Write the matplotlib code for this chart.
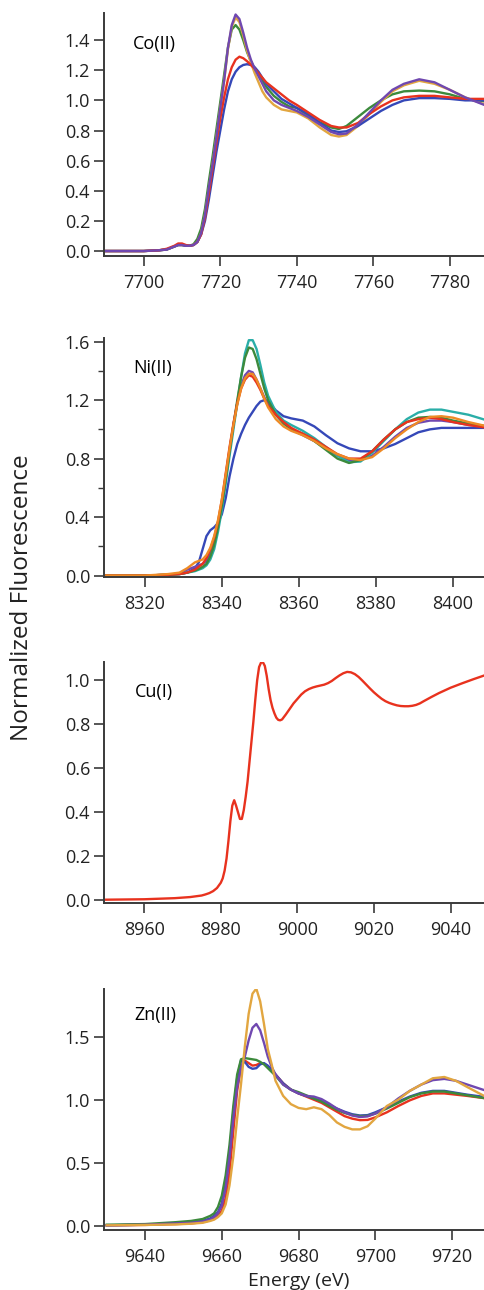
import matplotlib
matplotlib.use("Agg")
import matplotlib.pyplot as plt
from matplotlib.ticker import MultipleLocator, FormatStrFormatter

plt.rcParams['font.family'] = ['Open Sans', 'DejaVu Sans']

# colours
PURPLE = '#7048b0'
BLUE = '#3548b8'
RED = '#e8321e'
GREEN = '#3c8a3c'
GOLD = '#e2a640'
TEAL = '#2aaea8'
ORANGE = '#ee8a25'

# ---------------- Co(II) ----------------
co_e = [7690, 7700, 7704, 7706, 7708, 7709, 7710, 7711, 7712, 7713, 7714, 7715,
        7716, 7717, 7718, 7719, 7720, 7721, 7722, 7723, 7724, 7725, 7726, 7727,
        7728, 7729, 7730, 7731, 7732, 7734, 7736, 7738, 7740, 7743, 7746, 7749,
        7751, 7753, 7756, 7759, 7762, 7765, 7768, 7772, 7776, 7780, 7784, 7790]
co_purple = [0.0, 0.0, 0.005, 0.01, 0.03, 0.04, 0.04, 0.035, 0.035, 0.04, 0.06, 0.12,
             0.24, 0.42, 0.58, 0.76, 0.95, 1.13, 1.35, 1.50, 1.57, 1.54, 1.45, 1.35,
             1.27, 1.21, 1.16, 1.11, 1.06, 1.0, 0.97, 0.95, 0.93, 0.89, 0.84, 0.79,
             0.775, 0.78, 0.84, 0.92, 1.0, 1.07, 1.11, 1.14, 1.12, 1.07, 1.02, 0.96]
co_gold = [0.0, 0.0, 0.005, 0.01, 0.03, 0.04, 0.04, 0.035, 0.035, 0.04, 0.06, 0.12,
           0.24, 0.41, 0.58, 0.76, 0.95, 1.13, 1.34, 1.49, 1.55, 1.52, 1.43, 1.33,
           1.25, 1.18, 1.12, 1.06, 1.02, 0.97, 0.94, 0.93, 0.92, 0.88, 0.82, 0.77,
           0.76, 0.77, 0.83, 0.91, 0.99, 1.06, 1.10, 1.13, 1.11, 1.07, 1.02, 0.965]
co_green = [0.0, 0.0, 0.005, 0.01, 0.03, 0.04, 0.04, 0.035, 0.035, 0.045, 0.08, 0.15,
            0.28, 0.46, 0.63, 0.81, 0.99, 1.17, 1.35, 1.47, 1.50, 1.47, 1.40, 1.32,
            1.26, 1.21, 1.17, 1.13, 1.09, 1.03, 0.99, 0.96, 0.95, 0.90, 0.855, 0.82,
            0.81, 0.83, 0.89, 0.95, 1.0, 1.04, 1.06, 1.065, 1.06, 1.04, 1.01, 0.99]
co_red = [0.0, 0.0, 0.005, 0.015, 0.035, 0.05, 0.05, 0.04, 0.035, 0.04, 0.06, 0.11,
          0.22, 0.38, 0.55, 0.72, 0.88, 1.02, 1.14, 1.22, 1.27, 1.29, 1.28, 1.26,
          1.235, 1.21, 1.18, 1.15, 1.12, 1.08, 1.04, 1.0, 0.97, 0.92, 0.87, 0.83,
          0.82, 0.82, 0.85, 0.91, 0.96, 1.0, 1.02, 1.03, 1.03, 1.02, 1.01, 1.01]
co_blue = [0.0, 0.0, 0.005, 0.01, 0.03, 0.04, 0.04, 0.035, 0.035, 0.04, 0.06, 0.11,
           0.20, 0.34, 0.50, 0.66, 0.80, 0.94, 1.06, 1.14, 1.19, 1.22, 1.235, 1.24,
           1.235, 1.22, 1.19, 1.15, 1.11, 1.06, 1.01, 0.98, 0.95, 0.91, 0.85, 0.80,
           0.79, 0.795, 0.83, 0.88, 0.93, 0.97, 1.0, 1.015, 1.015, 1.01, 1.0, 1.0]

# ---------------- Ni(II) ----------------
ni_e = [8310, 8320, 8326, 8329, 8331, 8333, 8334, 8335, 8336, 8337, 8338, 8339,
        8340, 8341, 8342, 8343, 8344, 8345, 8346, 8347, 8348, 8349, 8350, 8351,
        8352, 8354, 8356, 8358, 8361, 8364, 8367, 8370, 8373, 8376, 8379, 8382,
        8385, 8388, 8391, 8394, 8397, 8400, 8404, 8409]
ni_teal = [0.0, 0.0, 0.005, 0.01, 0.02, 0.03, 0.04, 0.05, 0.07, 0.11, 0.18, 0.30,
           0.45, 0.63, 0.82, 1.0, 1.18, 1.36, 1.52, 1.61, 1.61, 1.55, 1.44, 1.32,
           1.23, 1.12, 1.06, 1.03, 0.99, 0.94, 0.88, 0.82, 0.775, 0.78, 0.84, 0.92,
           1.0, 1.07, 1.115, 1.135, 1.135, 1.12, 1.10, 1.06]
ni_green = [0.0, 0.0, 0.005, 0.01, 0.02, 0.035, 0.045, 0.06, 0.08, 0.13, 0.21, 0.33,
            0.48, 0.66, 0.85, 1.03, 1.20, 1.36, 1.49, 1.56, 1.55, 1.48, 1.38, 1.28,
            1.20, 1.10, 1.04, 1.0, 0.97, 0.92, 0.86, 0.80, 0.77, 0.79, 0.85, 0.93,
            1.0, 1.05, 1.08, 1.085, 1.08, 1.06, 1.04, 1.02]
ni_purple = [0.0, 0.0, 0.005, 0.015, 0.04, 0.06, 0.07, 0.08, 0.10, 0.15, 0.23, 0.35,
             0.50, 0.68, 0.86, 1.03, 1.18, 1.30, 1.37, 1.40, 1.39, 1.34, 1.28, 1.22,
             1.17, 1.10, 1.05, 1.0, 0.96, 0.92, 0.87, 0.82, 0.79, 0.79, 0.82, 0.88,
             0.95, 1.01, 1.045, 1.06, 1.06, 1.05, 1.03, 1.02]
ni_red = [0.0, 0.0, 0.005, 0.01, 0.02, 0.04, 0.06, 0.08, 0.12, 0.18, 0.26, 0.37,
          0.52, 0.70, 0.88, 1.04, 1.18, 1.28, 1.34, 1.37, 1.36, 1.32, 1.27, 1.21,
          1.16, 1.10, 1.05, 1.01, 0.97, 0.93, 0.88, 0.83, 0.80, 0.80, 0.85, 0.93,
          1.0, 1.05, 1.07, 1.08, 1.07, 1.05, 1.03, 1.01]
ni_orange = [0.0, 0.0, 0.01, 0.02, 0.05, 0.09, 0.10, 0.11, 0.14, 0.19, 0.27, 0.38,
             0.52, 0.69, 0.87, 1.03, 1.17, 1.28, 1.35, 1.38, 1.38, 1.34, 1.28, 1.21,
             1.15, 1.07, 1.02, 0.99, 0.96, 0.92, 0.87, 0.83, 0.80, 0.79, 0.81, 0.87,
             0.94, 1.0, 1.05, 1.085, 1.09, 1.08, 1.05, 1.02]
ni_blue = [0.0, 0.0, 0.005, 0.01, 0.02, 0.05, 0.09, 0.18, 0.27, 0.31, 0.33, 0.36,
           0.42, 0.53, 0.68, 0.80, 0.90, 0.97, 1.03, 1.08, 1.12, 1.16, 1.19, 1.20,
           1.19, 1.13, 1.09, 1.075, 1.06, 1.02, 0.96, 0.905, 0.87, 0.85, 0.85, 0.87,
           0.90, 0.94, 0.98, 1.0, 1.01, 1.01, 1.01, 1.01]

# ---------------- Cu(I) ----------------
cu_e = [8950, 8960, 8968, 8972, 8975, 8976, 8977, 8978, 8979, 8980, 8980.5, 8981,
        8981.5, 8982, 8982.5, 8983, 8983.5, 8984, 8984.5, 8985, 8985.5, 8986, 8986.5,
        8987, 8987.5, 8988, 8988.5, 8989, 8989.5, 8990, 8990.5, 8991, 8991.5, 8992,
        8992.5, 8993, 8993.5, 8994, 8994.5, 8995, 8995.5, 8996, 8997, 8998, 8999,
        9000, 9001, 9002, 9003, 9004, 9005, 9006, 9007, 9008, 9009, 9010, 9011,
        9012, 9013, 9014, 9015, 9016, 9017, 9018, 9019, 9020, 9021, 9022, 9023,
        9024, 9025, 9026, 9027, 9028, 9029, 9030, 9031, 9032, 9033, 9035, 9037,
        9040, 9043, 9046, 9049]
cu_red = [0.003, 0.005, 0.01, 0.015, 0.022, 0.027, 0.033, 0.042, 0.056, 0.08, 0.10, 0.135,
          0.19, 0.27, 0.36, 0.43, 0.455, 0.43, 0.40, 0.37, 0.37, 0.41, 0.47,
          0.54, 0.63, 0.72, 0.81, 0.91, 1.0, 1.06, 1.08, 1.082, 1.065, 1.02,
          0.96, 0.91, 0.875, 0.85, 0.83, 0.82, 0.818, 0.822, 0.845, 0.87, 0.895,
          0.915, 0.935, 0.95, 0.96, 0.967, 0.972, 0.976, 0.98, 0.987, 0.997, 1.01, 1.022,
          1.032, 1.038, 1.036, 1.028, 1.015, 0.998, 0.98, 0.962, 0.945, 0.93, 0.916, 0.905,
          0.897, 0.891, 0.886, 0.883, 0.882, 0.882, 0.884, 0.888, 0.895, 0.905, 0.924, 0.942,
          0.966, 0.986, 1.005, 1.023]

# ---------------- Zn(II) ----------------
zn_e = [9630, 9640, 9648, 9652, 9655, 9657, 9658, 9659, 9660, 9661, 9662, 9663,
        9664, 9665, 9666, 9667, 9668, 9669, 9670, 9671, 9672, 9673, 9674, 9676,
        9678, 9680, 9682, 9684, 9686, 9688, 9690, 9692, 9694, 9696, 9698, 9700,
        9703, 9706, 9709, 9712, 9715, 9718, 9721, 9724, 9729]
zn_green = [0.01, 0.015, 0.03, 0.04, 0.055, 0.08, 0.10, 0.15, 0.24, 0.40, 0.64, 0.95,
            1.20, 1.32, 1.33, 1.325, 1.32, 1.315, 1.30, 1.28, 1.25, 1.22, 1.19, 1.12,
            1.08, 1.06, 1.035, 1.01, 0.985, 0.95, 0.92, 0.895, 0.878, 0.87, 0.872, 0.89,
            0.93, 0.975, 1.02, 1.05, 1.065, 1.065, 1.05, 1.035, 1.01]
zn_blue = [0.005, 0.01, 0.02, 0.03, 0.04, 0.06, 0.08, 0.11, 0.18, 0.33, 0.58, 0.90,
           1.17, 1.31, 1.30, 1.26, 1.245, 1.25, 1.28, 1.29, 1.27, 1.24, 1.20, 1.13,
           1.08, 1.05, 1.03, 1.01, 0.99, 0.96, 0.93, 0.905, 0.885, 0.875, 0.878, 0.90,
           0.94, 0.985, 1.025, 1.055, 1.07, 1.07, 1.055, 1.04, 1.02]
zn_red = [0.005, 0.008, 0.015, 0.02, 0.03, 0.045, 0.06, 0.08, 0.12, 0.22, 0.42, 0.75,
          1.07, 1.26, 1.31, 1.29, 1.27, 1.275, 1.29, 1.285, 1.265, 1.235, 1.20, 1.13,
          1.08, 1.05, 1.025, 1.0, 0.975, 0.94, 0.905, 0.87, 0.85, 0.838, 0.84, 0.86,
          0.90, 0.95, 0.995, 1.03, 1.05, 1.05, 1.04, 1.03, 1.01]
zn_purple = [0.005, 0.01, 0.02, 0.025, 0.035, 0.05, 0.07, 0.10, 0.16, 0.30, 0.54, 0.85,
             1.10, 1.25, 1.34, 1.47, 1.57, 1.60, 1.55, 1.45, 1.34, 1.26, 1.20, 1.12,
             1.08, 1.05, 1.03, 1.025, 1.005, 0.97, 0.93, 0.90, 0.875, 0.863, 0.868, 0.89,
             0.94, 1.01, 1.07, 1.12, 1.155, 1.165, 1.15, 1.12, 1.07]
zn_orange = [0.005, 0.008, 0.012, 0.018, 0.025, 0.04, 0.05, 0.07, 0.10, 0.17, 0.32, 0.55,
             0.85, 1.12, 1.42, 1.68, 1.84, 1.88, 1.78, 1.60, 1.40, 1.28, 1.15, 1.03,
             0.965, 0.935, 0.925, 0.94, 0.925, 0.88, 0.82, 0.785, 0.765, 0.765, 0.79, 0.85,
             0.95, 1.0, 1.07, 1.12, 1.17, 1.18, 1.15, 1.10, 1.02]

fig = plt.figure(figsize=(4.85, 12.9), dpi=100)

LW = 1.7
AX_L = 104 / 485
AX_W = 381 / 485


def make_axes(top_px, bottom_px):
    ax = fig.add_axes([AX_L, 1 - bottom_px / 1290, AX_W, (bottom_px - top_px) / 1290])
    for s in ['top', 'right']:
        ax.spines[s].set_visible(False)
    for s in ['left', 'bottom']:
        ax.spines[s].set_color('#3a3a3a')
        ax.spines[s].set_linewidth(1.4)
    ax.tick_params(axis='both', which='major', direction='out', length=7, width=1.2,
                   color='#3a3a3a', labelsize=13, labelcolor='#222222')
    ax.tick_params(axis='y', which='major', pad=3)
    ax.tick_params(axis='x', which='major', pad=6)
    ax.tick_params(axis='y', which='minor', direction='out', length=4, width=1.0, color='#3a3a3a')
    ax.xaxis.set_major_locator(MultipleLocator(20))
    return ax


# Co panel
ax1 = make_axes(13, 256)
ax1.plot(co_e, co_green, color=GREEN, lw=LW)
ax1.plot(co_e, co_gold, color=GOLD, lw=LW)
ax1.plot(co_e, co_blue, color=BLUE, lw=LW)
ax1.plot(co_e, co_red, color=RED, lw=LW)
ax1.plot(co_e, co_purple, color=PURPLE, lw=LW)
ax1.set_xlim(7689.6, 7789.2)
ax1.set_ylim(-0.033, 1.58)
ax1.yaxis.set_major_locator(MultipleLocator(0.2))
ax1.yaxis.set_major_formatter(FormatStrFormatter('%.1f'))
ax1.text(0.076, 0.872, 'Co(II)', transform=ax1.transAxes, fontsize=13, va='center')

# Ni panel
ax2 = make_axes(338, 577)
ax2.plot(ni_e, ni_blue, color=BLUE, lw=LW)
ax2.plot(ni_e, ni_purple, color=PURPLE, lw=LW)
ax2.plot(ni_e, ni_teal, color=TEAL, lw=LW)
ax2.plot(ni_e, ni_green, color=GREEN, lw=LW)
ax2.plot(ni_e, ni_red, color=RED, lw=LW)
ax2.plot(ni_e, ni_orange, color=ORANGE, lw=LW)
ax2.set_xlim(8309.4, 8408.3)
ax2.set_ylim(-0.01, 1.625)
ax2.yaxis.set_major_locator(MultipleLocator(0.4))
ax2.yaxis.set_minor_locator(MultipleLocator(0.2))
ax2.yaxis.set_major_formatter(FormatStrFormatter('%.1f'))
ax2.text(0.076, 0.874, 'Ni(II)', transform=ax2.transAxes, fontsize=13, va='center')

# Cu panel
ax3 = make_axes(662, 903)
ax3.plot(cu_e, cu_red, color=RED, lw=LW)
ax3.set_xlim(8949.5, 9049)
ax3.set_ylim(-0.012, 1.083)
ax3.yaxis.set_major_locator(MultipleLocator(0.2))
ax3.yaxis.set_major_formatter(FormatStrFormatter('%.1f'))
ax3.text(0.08, 0.876, 'Cu(I)', transform=ax3.transAxes, fontsize=13, va='center')

# Zn panel
ax4 = make_axes(989, 1230)
ax4.plot(zn_e, zn_red, color=RED, lw=LW)
ax4.plot(zn_e, zn_blue, color=BLUE, lw=LW)
ax4.plot(zn_e, zn_green, color=GREEN, lw=LW)
ax4.plot(zn_e, zn_purple, color=PURPLE, lw=LW)
ax4.plot(zn_e, zn_orange, color=GOLD, lw=LW)
ax4.set_xlim(9629.3, 9728.6)
ax4.set_ylim(-0.032, 1.877)
ax4.yaxis.set_major_locator(MultipleLocator(0.5))
ax4.yaxis.set_major_formatter(FormatStrFormatter('%.1f'))
ax4.text(0.08, 0.892, 'Zn(II)', transform=ax4.transAxes, fontsize=13, va='center')

fig.text(22 / 485, 1 - 598 / 1290, 'Normalized Fluorescence', rotation=90,
         ha='center', va='center', fontsize=17.5, color='#222222')
fig.text(299 / 485, 1 - 1281 / 1290, 'Energy (eV)', ha='center', va='center',
         fontsize=14, color='#222222')

fig.savefig('out.png', dpi=100)
